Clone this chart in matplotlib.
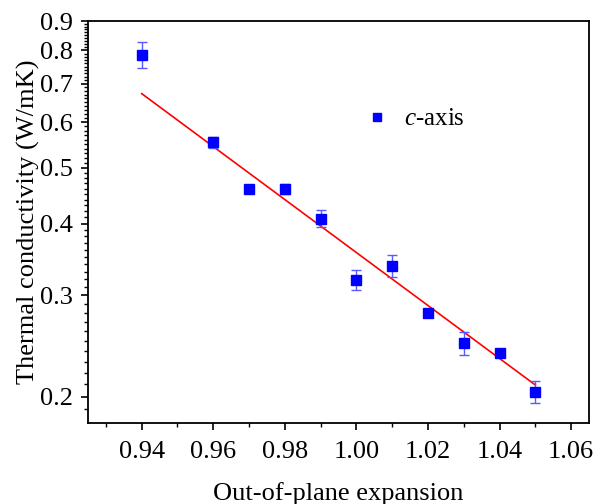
import matplotlib
matplotlib.use("Agg")
import matplotlib.pyplot as plt
from matplotlib.ticker import FixedLocator, FixedFormatter, NullFormatter
import numpy as np

plt.rcParams['font.family'] = ['Liberation Serif', 'DejaVu Serif']
plt.rcParams['mathtext.fontset'] = 'custom'
plt.rcParams['mathtext.it'] = 'Liberation Serif:italic'
plt.rcParams['mathtext.rm'] = 'Liberation Serif'

expansion = [0.94, 0.96, 0.97, 0.98, 0.99, 1.00, 1.01, 1.02, 1.03, 1.04, 1.05]
conductivity = [0.787, 0.554, 0.459, 0.459, 0.408, 0.319, 0.338, 0.280, 0.2477, 0.238, 0.204]
cond_err = [0.041, 0.012, 0.004, 0.009, 0.014, 0.013, 0.015, 0.004, 0.011, 0.003, 0.009]
fit_x = [0.94, 1.05]
fit_y = [0.673, 0.2096]

x_ticks = [0.94, 0.96, 0.98, 1.00, 1.02, 1.04, 1.06]
x_tick_labels = ['0.94', '0.96', '0.98', '1.00', '1.02', '1.04', '1.06']
y_ticks = [0.2, 0.3, 0.4, 0.5, 0.6, 0.7, 0.8, 0.9]
y_tick_labels = ['0.2', '0.3', '0.4', '0.5', '0.6', '0.7', '0.8', '0.9']

fig = plt.figure(figsize=(5.97, 5.04), dpi=100)
ax = fig.add_axes([88/597, 1 - 423/504, (589 - 88)/597, (423 - 21)/504])

ax.plot(fit_x, fit_y, color='red', lw=1.2, zorder=2)
ax.errorbar(expansion, conductivity, yerr=cond_err, fmt='none',
            ecolor=(0.35, 0.35, 1.0), elinewidth=1.0, capsize=3.5, capthick=1.0, zorder=3)
ax.plot(expansion, conductivity, 's', color='#0000ff', markersize=6.5,
        zorder=4, label='$c$-axis')

ax.set_yscale('log')
ax.set_xlim(0.925, 1.065)
ax.set_ylim(0.18, 0.9)

ax.xaxis.set_major_locator(FixedLocator(x_ticks))
ax.xaxis.set_major_formatter(FixedFormatter(x_tick_labels))
ax.xaxis.set_minor_locator(FixedLocator([0.93, 0.95, 0.97, 0.99, 1.01, 1.03, 1.05]))
ax.yaxis.set_major_locator(FixedLocator(y_ticks))
ax.yaxis.set_major_formatter(FixedFormatter(y_tick_labels))
minor_y = [round(v, 2) for v in np.arange(0.19, 0.9, 0.01) if round(v * 100) % 10 != 0]
ax.yaxis.set_minor_locator(FixedLocator(minor_y))
ax.yaxis.set_minor_formatter(NullFormatter())

ax.tick_params(axis='both', which='major', direction='out', length=5, width=1.2,
               labelsize=19, top=False, right=False)
ax.tick_params(axis='both', which='minor', direction='out', length=3, width=1.0,
               top=False, right=False)
ax.tick_params(axis='x', which='major', pad=8)
ax.tick_params(axis='y', which='major', pad=6)
for s in ax.spines.values():
    s.set_linewidth(1.3)

ax.set_xlabel('Out-of-plane expansion', fontsize=19, labelpad=14)
ax.set_ylabel('Thermal conductivity (W/mK)', fontsize=19, labelpad=0)

ax.legend(loc='center left', bbox_to_anchor=(0.531, 0.756), frameon=False,
          fontsize=18, handlelength=0.8, handletextpad=0.7, borderpad=0,
          markerscale=0.8)

fig.savefig('out.png', dpi=100)
